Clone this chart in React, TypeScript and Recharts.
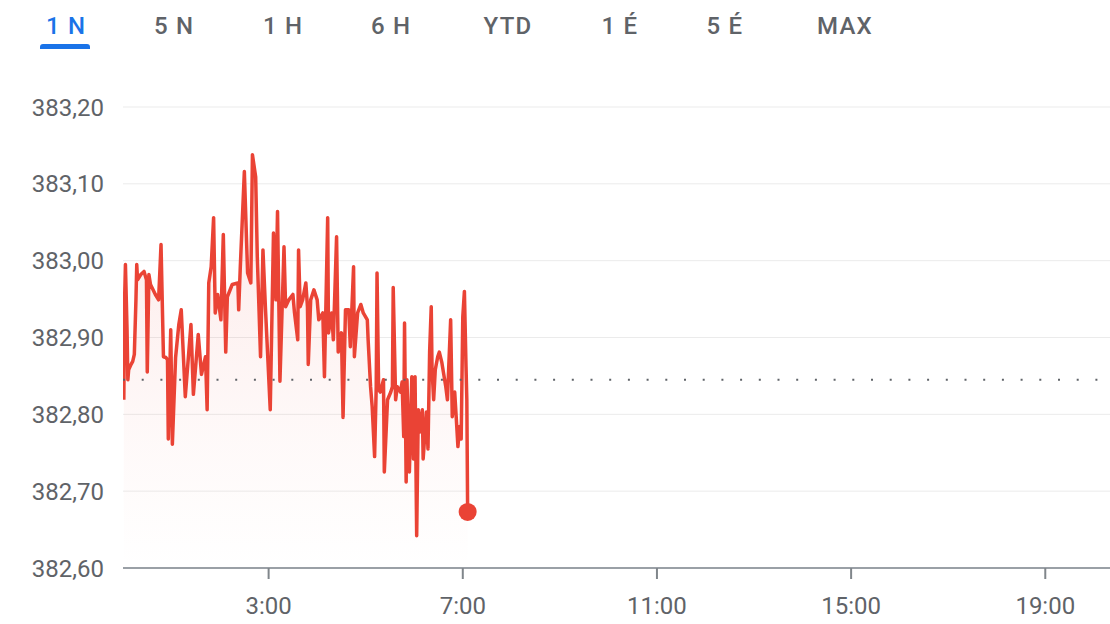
import React from 'react';
import {
  ComposedChart,
  Area,
  XAxis,
  YAxis,
  CartesianGrid,
  ReferenceLine,
  ReferenceDot,
} from 'recharts';

// minutes since 0:00
const minutes = [
  1, 2, 3, 5, 6, 7, 10, 12, 14, 16,
  17, 18, 22, 26, 29, 30, 32, 34, 40, 44,
  47, 50, 53, 55, 56, 59, 61, 65, 69, 72,
  77, 84, 87, 93, 97, 102, 104, 106, 109, 112,
  114, 117, 121, 124, 127, 129, 135, 142, 143, 145,
  150, 154, 158, 160, 164, 166, 170, 173, 176, 182,
  186, 189, 191, 194, 199, 201, 205, 210, 212, 216,
  217, 219, 222, 226, 228, 229, 232, 236, 240, 242,
  247, 249, 253, 254, 258, 260, 264, 266, 270, 272,
  275, 279, 281, 285, 286, 290, 294, 297, 302, 303,
  306, 308, 311, 313, 314, 316, 318, 322, 323, 327,
  331, 333, 334, 337, 339, 343, 345, 347, 348, 350,
  351, 354, 357, 359, 361, 363, 365, 367, 370, 371,
  375, 377, 379, 381, 382, 384, 386, 389, 391, 394,
  396, 399, 401, 405, 407, 410, 412, 414, 416, 418,
  420, 422, 424, 425, 426,
];

const prices = [
  382.819, 382.949, 382.995, 382.91, 382.845, 382.858, 382.865, 382.869, 382.878, 382.949,
  382.995, 382.975, 382.982, 382.986, 382.975, 382.855, 382.982, 382.969, 382.956, 382.949,
  383.021, 382.875, 382.874, 382.871, 382.768, 382.91, 382.761, 382.874, 382.917, 382.936,
  382.823, 382.917, 382.826, 382.904, 382.852, 382.875, 382.806, 382.971, 382.992, 383.056,
  382.932, 382.956, 382.923, 383.034, 382.881, 382.953, 382.969, 382.971, 382.936, 382.992,
  383.116, 382.984, 382.971, 383.138, 383.109, 383.005, 382.875, 383.014, 382.94, 382.806,
  383.036, 382.949, 383.064, 382.843, 383.018, 382.94, 382.949, 382.956, 382.932, 382.897,
  383.014, 382.94, 382.949, 382.971, 382.94, 382.865, 382.949, 382.962, 382.949, 382.923,
  382.932, 382.849, 383.056, 382.906, 382.932, 382.897, 383.031, 382.881, 382.906, 382.796,
  382.936, 382.936, 382.888, 382.992, 382.875, 382.932, 382.943, 382.932, 382.923, 382.897,
  382.836, 382.81, 382.745, 382.836, 382.984, 382.832, 382.829, 382.845, 382.725, 382.819,
  382.829, 382.836, 382.965, 382.819, 382.836, 382.829, 382.842, 382.771, 382.919, 382.712,
  382.845, 382.725, 382.849, 382.742, 382.849, 382.642, 382.806, 382.777, 382.806, 382.742,
  382.803, 382.755, 382.881, 382.94, 382.858, 382.819, 382.858, 382.875, 382.881, 382.868,
  382.855, 382.836, 382.819, 382.923, 382.797, 382.829, 382.794, 382.758, 382.784, 382.768,
  382.927, 382.96, 382.862, 382.819, 382.673,
];

const previousClose = 382.845;
const yTicks = [382.6, 382.7, 382.8, 382.9, 383.0, 383.1, 383.2];
const xTicks = [180, 420, 660, 900, 1140];
const xTickLabels = ['3:00', '7:00', '11:00', '15:00', '19:00'];
const xDomainEnd = 1220;
const rangeTabs = ['1 N', '5 N', '1 H', '6 H', 'YTD', '1 É', '5 É', 'MAX'];
const activeTab = 0;

// layout
const tabCenters = [66, 174, 283, 391, 508, 620, 725, 845];
const RED = '#ea4335';
const GRAY = '#5f6368';

const rows = minutes.map((t, i) => ({ t, p: prices[i] }));

const fmtY = (v: number) => v.toFixed(2).replace('.', ',');
const fmtX = (v: number) => {
  const i = xTicks.indexOf(v);
  return i >= 0 ? xTickLabels[i] : '';
};

export default function App() {
  const lastT = minutes[minutes.length - 1];
  const lastP = prices[prices.length - 1];
  return (
    <div
      style={{
        position: 'absolute',
        left: 0,
        top: 0,
        width: 1110,
        height: 624,
        background: '#fff',
        fontFamily: 'Roboto, sans-serif',
        overflow: 'hidden',
      }}
    >
      <div style={{ position: 'absolute', left: 0, top: 0, width: 1110, height: 60 }}>
        {rangeTabs.map((label, i) => (
          <span
            key={label}
            style={{
              position: 'absolute',
              left: tabCenters[i],
              top: 14,
              transform: 'translateX(-50%)',
              fontSize: 24,
              lineHeight: '24px',
              fontWeight: 500,
              letterSpacing: 1.2,
              whiteSpace: 'nowrap',
              color: i === activeTab ? '#1a73e8' : GRAY,
            }}
          >
            {label}
          </span>
        ))}
        <div
          style={{
            position: 'absolute',
            left: 40,
            top: 44,
            width: 50,
            height: 5,
            background: '#1a73e8',
            borderRadius: '3px 3px 0 0',
          }}
        />
      </div>
      <div style={{ position: 'absolute', left: 0, top: 0 }}>
        <ComposedChart
          width={1110}
          height={624}
          data={rows}
          margin={{ top: 107, right: 0, bottom: 0, left: 0 }}
        >
          <defs>
            <linearGradient id="fillRed" x1="0" y1="0" x2="0" y2="1">
              <stop offset="0%" stopColor={RED} stopOpacity={0.2} />
              <stop offset="70%" stopColor={RED} stopOpacity={0.05} />
              <stop offset="100%" stopColor={RED} stopOpacity={0.0} />
            </linearGradient>
          </defs>
          <CartesianGrid horizontal vertical={false} stroke="#ebebeb" strokeWidth={1} />
          <XAxis
            dataKey="t"
            type="number"
            domain={[0, xDomainEnd]}
            ticks={xTicks}
            tickFormatter={fmtX}
            height={56}
            axisLine={{ stroke: '#9aa0a6', strokeWidth: 2 }}
            tickLine={{ stroke: '#80868b', strokeWidth: 2 }}
            tickSize={11}
            tickMargin={18}
            tick={{ fill: GRAY, fontSize: 24, fontFamily: 'Roboto, sans-serif' }}
            allowDataOverflow
          />
          <YAxis
            type="number"
            domain={[382.6, 383.2]}
            ticks={yTicks}
            tickFormatter={fmtY}
            width={123}
            axisLine={false}
            tickLine={false}
            tickSize={0}
            tickMargin={19}
            tick={{ fill: GRAY, fontSize: 24, fontFamily: 'Roboto, sans-serif' }}
            allowDataOverflow
          />
          <ReferenceLine
            y={previousClose}
            stroke={GRAY}
            strokeWidth={2}
            strokeDasharray="2 16.7"
          />
          <Area
            type="linear"
            dataKey="p"
            stroke={RED}
            strokeWidth={3.5}
            fill="url(#fillRed)"
            dot={false}
            activeDot={false}
            isAnimationActive={false}
            strokeLinejoin="round"
          />
          <ReferenceDot x={lastT} y={lastP} r={9} fill={RED} stroke="none" />
        </ComposedChart>
      </div>
    </div>
  );
}
